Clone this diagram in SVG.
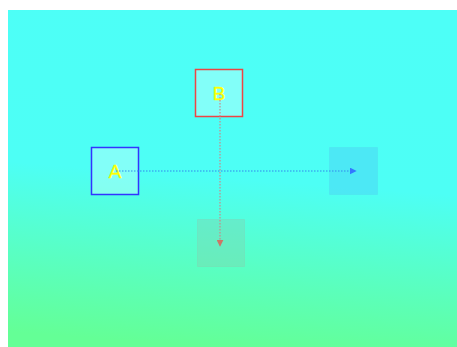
<svg xmlns="http://www.w3.org/2000/svg" width="457" height="347" viewBox="0 0 457 347">
<defs>
<linearGradient id="bg" x1="0.55" y1="0" x2="0.45" y2="1">
<stop offset="0" stop-color="#4dfff7"/>
<stop offset="0.5" stop-color="#4dfff5"/>
<stop offset="1" stop-color="#64ff96"/>
</linearGradient>
<marker id="ab" viewBox="0 0 10 10" refX="9" refY="5" markerWidth="7" markerHeight="7" orient="auto" markerUnits="userSpaceOnUse"><path d="M0,0 L10,5 L0,10 z" fill="#3377ff"/></marker>
<marker id="ar" viewBox="0 0 10 10" refX="9" refY="5" markerWidth="7" markerHeight="7" orient="auto" markerUnits="userSpaceOnUse"><path d="M0,0 L10,5 L0,10 z" fill="#cc7766"/></marker>
</defs>
<style>
.node{fill:#ffffff;fill-opacity:0.3;stroke-width:1.5}
.lbl{font-family:"Liberation Sans",Arial,sans-serif;font-size:19px;fill:#ffff00;stroke:#ffff00;stroke-width:0.3;text-anchor:middle}
.ghost{stroke-dasharray:1 1;stroke-width:1}
.edge{fill:none;stroke-width:1.2;stroke-dasharray:1.5 1.5}
</style>
<rect x="8" y="10" width="449" height="337" fill="url(#bg)"/>
<g id="ghost-right"><rect class="ghost" x="329.5" y="147.5" width="48" height="47" fill="#4dd8f5" fill-opacity="0.6" stroke="#55ccee" stroke-opacity="0.5"/></g>
<g id="ghost-bottom"><rect class="ghost" x="197.5" y="219.5" width="47" height="47" fill="#88ccaa" fill-opacity="0.35" stroke="#99bbaa" stroke-opacity="0.5"/></g>
<g id="A"><rect class="node" x="91.5" y="147.5" width="47" height="47" stroke="#3333ff"/><text class="lbl" x="115" y="178">A</text></g>
<g id="B"><rect class="node" x="195.5" y="69.5" width="47" height="47" stroke="#ee4444"/><text class="lbl" x="219" y="100">B</text></g>
<g id="connectors">
<line class="edge" x1="116" y1="171" x2="356" y2="171" stroke="#3388ee" marker-end="url(#ab)"/>
<line class="edge" x1="220" y1="94" x2="220" y2="246" stroke="#cc8888" marker-end="url(#ar)"/>
</g>
</svg>
